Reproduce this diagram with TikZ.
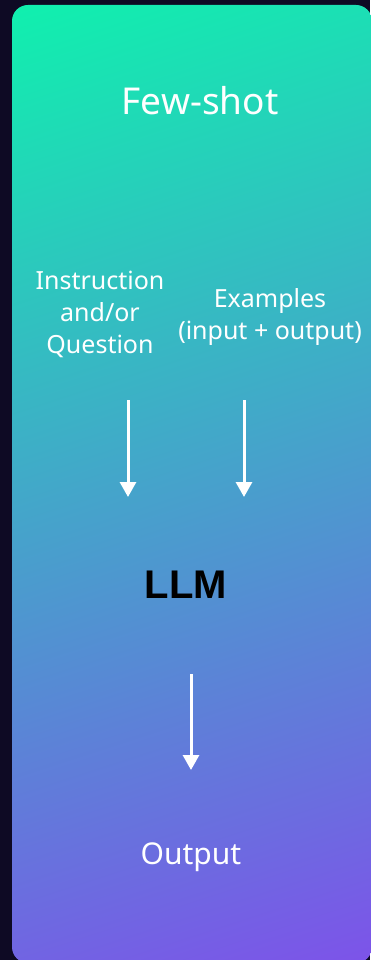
\documentclass[tikz,border=0pt]{standalone}
\usepackage{fontspec}
\setmainfont{Noto Sans}
\newfontfamily\llmfont{Liberation Sans}
\usetikzlibrary{arrows.meta}
\usetikzlibrary{positioning}
\definecolor{bgdark}{HTML}{0E0A24}
\definecolor{panelgreen}{HTML}{10F0AE}
\definecolor{panelpurple}{HTML}{7D53E9}
\pgfdeclareverticalshading{panelshade}{100bp}{color(0bp)=(panelpurple);
    color(18.5bp)=(panelpurple); color(81.5bp)=(panelgreen); color(100bp)=(panelgreen)}
\tikzstyle{heading} = [text=white, font=\fontsize{37}{42}\selectfont]
\tikzstyle{whitetext} = [text=white, align=center, font=\fontsize{25}{32}\selectfont]
\tikzstyle{model} = [text=black, font=\llmfont\bfseries\fontsize{40}{44}\selectfont]
\tikzstyle{flow} = [draw=white, line width=3pt, -{Triangle[width=16pt,length=15pt]}]
\tikzstyle{point} = [coordinate]

\begin{document}
\begin{tikzpicture}[x=1pt,y=-1pt]
    \useasboundingbox (0,0) rectangle (370,960);
    \fill[bgdark] (0,0) rectangle (370,960);
    \shade[rounded corners=16pt, shading=panelshade, shading angle=18]
        (12,5) rectangle (372,963);

    \node[heading] at (200,101) (fewshot) {Few-shot};
    \node[whitetext] at (100,314) (instr) {Instruction\\and/or\\Question};
    \node[whitetext] at (270,317) (examples) {Examples\\(input + output)};
    \node[model] at (186,585) (llm) {LLM};
    \node[whitetext, font=\fontsize{30}{32}\selectfont] at (191,857) (output) {Output};

    \node[point] at (128,400) (instrtop) {};
    \node[point] at (128,497) (instrend) {};
    \node[point] at (244,400) (examplestop) {};
    \node[point] at (244,497) (examplesend) {};
    \node[point] at (191,674) (llmtop) {};
    \node[point] at (191,770) (llmend) {};

    \draw[flow] (instrtop) -- (instrend);
    \draw[flow] (examplestop) -- (examplesend);
    \draw[flow] (llmtop) -- (llmend);
\end{tikzpicture}
\end{document}
